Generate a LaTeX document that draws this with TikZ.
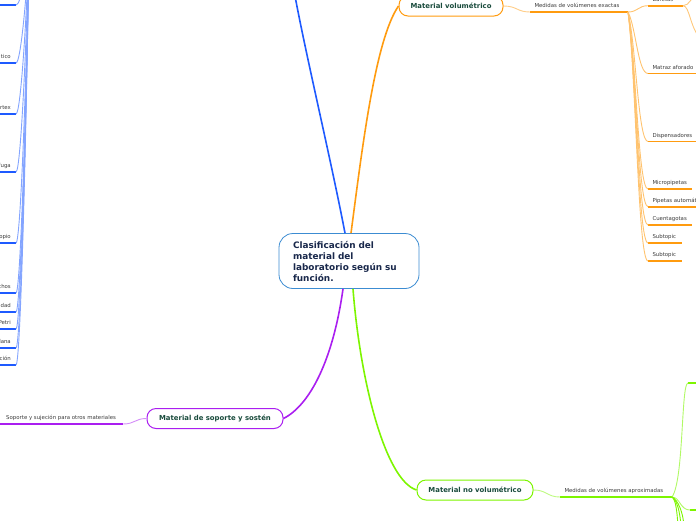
\documentclass[tikz,border=0pt]{standalone}
\usepackage{fontspec}
\setmainfont{DejaVu Sans}
\definecolor{cblue}{RGB}{30,90,255}
\definecolor{corange}{RGB}{255,155,15}
\definecolor{cpurple}{RGB}{170,30,240}
\definecolor{cgreen}{RGB}{125,245,0}
\definecolor{cborder}{RGB}{60,140,210}
\definecolor{cctext}{RGB}{25,40,75}
\definecolor{ctopic}{RGB}{25,75,60}
\definecolor{csub}{RGB}{60,60,60}
\tikzset{
 central/.style={draw=cborder, line width=0.8pt, fill=white, rounded corners=14pt, minimum width=140pt, minimum height=55pt, inner xsep=14pt, text width=112pt, align=left, text=cctext, font=\bfseries\fontsize{8.9}{11}\selectfont},
 topic/.style={draw=#1, line width=1pt, fill=white, rounded corners=9pt, minimum height=20pt, inner sep=0pt, text=ctopic, font=\bfseries\fontsize{6.9}{8}\selectfont},
 subtext/.style={inner xsep=4.3pt, inner ysep=0pt, text=csub, font=\fontsize{5.4}{6.5}\selectfont},
 uline/.style={line width=1.8pt, draw=#1},
 link/.style={line width=0.9pt, draw=#1},
 mainlink/.style={line width=1.6pt, draw=#1},
}
\newcommand\mysub[6]{%
  \coordinate (#1L) at (#2,#3);
  \coordinate (#1R) at ({#2+#4},#3);
  \node[subtext, anchor=base west] (#1) at ([yshift=4.5pt]#1L) {#6};
  \draw[uline=#5] (#1L) -- (#1R);
}
\newcommand\mysubleft[3]{%
  \coordinate (#1L) at (-2,#2);
  \coordinate (#1R) at (16,#2);
  \node[subtext, anchor=base east, inner xsep=5pt] (#1) at ([yshift=4.5pt]#1R) {#3};
  \draw[uline=cblue] (#1L) -- (#1R);
  \draw[link=cblue!55] (bp) .. controls (27,{-50+0.35*(#2+50)}) and (21,#2) .. (#1R);
}
\newcommand\myolink[2]{%
  \draw[link=corange!60] (meR) .. controls (636,{12+0.25*(#2-12)}) and (638,#2) .. (#1L);
}
\begin{document}
\begin{tikzpicture}[x=1pt,y=-1pt]
\useasboundingbox (0,0) rectangle (696,520);
\clip (0,0) rectangle (696,520);

% central node
\node[central] (c) at (349,261) {Clasificación del\\material del\\laboratorio según su\\función.};

% topics
\node[topic=corange, minimum width=104pt] (mv) at (451,6) {Material volumétrico};
\node[topic=cpurple, minimum width=136pt] (ms) at (215,418.5) {Material de soporte y sostén};
\node[topic=cgreen, minimum width=116pt] (mn) at (475,490) {Material no volumétrico};

% off-screen ends
\coordinate (bt) at (295,-4);
\coordinate (bp) at (29,-50);

% main branches
\draw[mainlink=cblue] ([xshift=-4pt]c.north) .. controls (331,160) and (307,60) .. (bt);
\draw[mainlink=corange] ([xshift=2pt]c.north) .. controls (362,150) and (375,40) .. (mv.west);
\draw[mainlink=cpurple] ([xshift=-6pt]c.south) .. controls (333,360) and (310,405) .. (ms.east);
\draw[mainlink=cgreen] ([xshift=4pt]c.south) .. controls (360,380) and (385,480) .. (mn.west);

% subtopics of topics
\mysub{me}{530}{12}{98}{corange}{Medidas de volúmenes exactas}
\draw[link=corange!50] (mv.east) .. controls (517,6) and (517,12) .. (meL);
\mysub{ss}{0}{424}{123}{cpurple}{\hspace{1.7pt}Soporte y sujeción para otros materiales}
\draw[link=cpurple!50] (ms.west) .. controls (135,418.5) and (135,424) .. (ssR);
\mysub{ma}{560}{497}{112}{cgreen}{Medidas de volúmenes aproximadas}
\draw[link=cgreen!50] (mn.east) .. controls (547,490) and (547,497) .. (maL);

% orange children
\mysub{bu}{648}{5.7}{35}{corange}{Buretas}
\mysub{mt}{648}{73.5}{60}{corange}{Matraz aforado}
\mysub{di}{648}{141.5}{60}{corange}{Dispensadores}
\mysub{mi}{648}{189}{44}{corange}{Micropipetas}
\mysub{pa}{648}{206.7}{60}{corange}{Pipetas automáticas}
\mysub{cu}{648}{225}{44}{corange}{Cuentagotas}
\mysub{sa}{648}{243}{34}{corange}{Subtopic}
\mysub{sb}{648}{261}{34}{corange}{Subtopic}
\draw[link=corange!60] (meR) .. controls (638,12) and (638,5.7) .. (buL);
\myolink{mt}{73.5}
\myolink{di}{141.5}
\myolink{mi}{189}
\myolink{pa}{206.7}
\myolink{cu}{225}
\myolink{sa}{243}
\myolink{sb}{261}
\coordinate (bu1) at (700,-8);
\coordinate (bu2) at (702,40);
\draw[link=corange!55] (buR) .. controls (690,5.7) and (690,-3) .. (bu1);
\draw[link=corange!55] (buR) .. controls (690,5.7) and (690,30) .. (bu2);

% green children
\coordinate (g1) at (688,383);
\coordinate (g1e) at (700,383);
\coordinate (g2) at (690,510);
\coordinate (g2e) at (700,510);
\draw[uline=cgreen] (g1) -- (g1e);
\draw[uline=cgreen] (g2) -- (g2e);
\draw[link=cgreen!60] (maR) .. controls (684,480) and (681,383) .. (g1);
\draw[link=cgreen!60] (maR) .. controls (680,497) and (680,510) .. (g2);
\coordinate (gd1) at (678,526);
\coordinate (gd2) at (681,526);
\coordinate (gd3) at (684,526);
\draw[link=cgreen] (maR) .. controls (676,500) and (677,512) .. (gd1);
\draw[link=cgreen] (maR) .. controls (677,500) and (680,512) .. (gd2);
\draw[link=cgreen] (maR) .. controls (678,500) and (683,512) .. (gd3);

% blue left column
\mysubleft{l0}{5}{}
\mysubleft{l1}{63}{tico}
\mysubleft{l2}{114}{rtex}
\mysubleft{l3}{172}{fuga}
\mysubleft{l4}{243}{opio}
\mysubleft{l5}{293}{chos}
\mysubleft{l6}{312}{idad}
\mysubleft{l7}{329}{Petri}
\mysubleft{l8}{348}{lana}
\mysubleft{l9}{365}{ción}
\end{tikzpicture}
\end{document}
